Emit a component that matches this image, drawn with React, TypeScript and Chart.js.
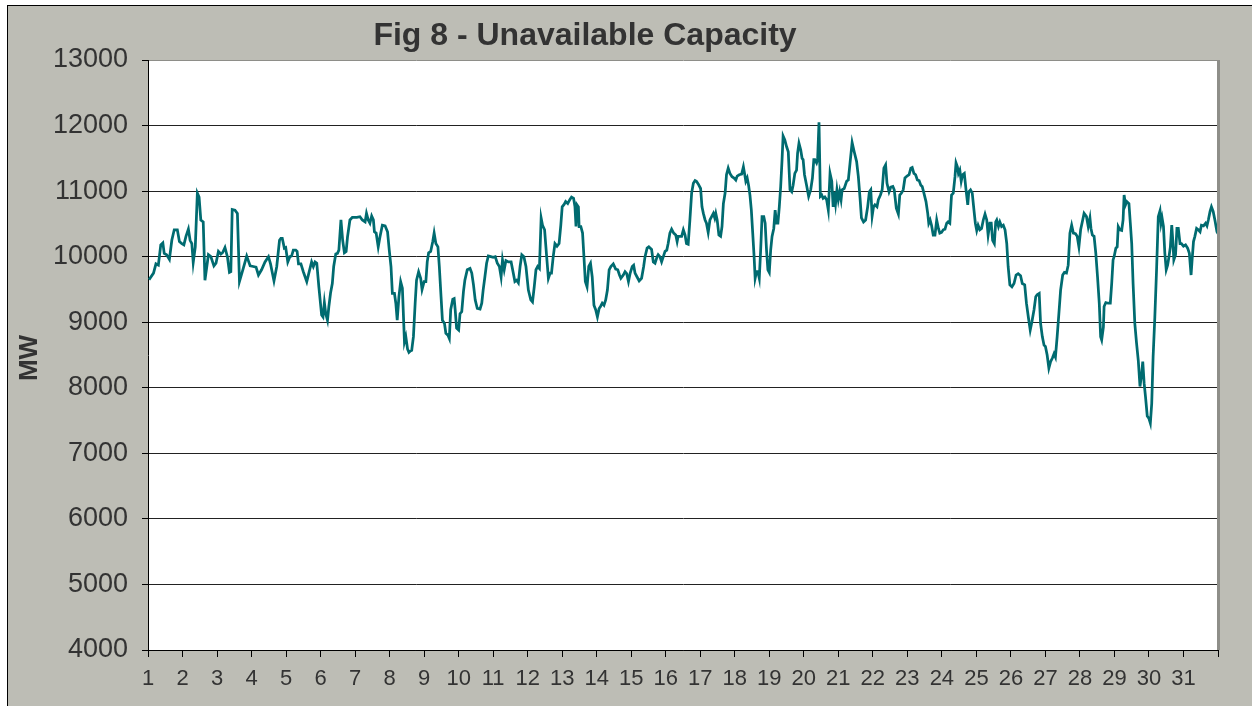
import React, { useEffect, useRef } from "react";
import { Chart, registerables } from "chart.js";

Chart.register(...registerables);

const TITLE = "Fig 8 - Unavailable Capacity";
const Y_TITLE = "MW";

const xTickLabels = [
  "1", "2", "3", "4", "5", "6", "7", "8", "9", "10", "11", "12", "13", "14", "15", "16",
  "17", "18", "19", "20", "21", "22", "23", "24", "25", "26", "27", "28", "29", "30", "31",
];

const yMin = 4000;
const yMax = 13000;
const yStep = 1000;

// day of month (fractional) of each reading
const days = [
  1.03, 1.16, 1.23, 1.30, 1.37, 1.43, 1.47, 1.54, 1.62, 1.69, 1.76, 1.85, 1.91, 1.98, 2.04, 2.10,
  2.17, 2.22, 2.27, 2.31, 2.37, 2.43, 2.48, 2.53, 2.60, 2.65, 2.75, 2.82, 2.91, 2.97, 3.04, 3.11,
  3.16, 3.23, 3.30, 3.36, 3.40, 3.44, 3.52, 3.59, 3.65, 3.76, 3.86, 3.96, 4.05, 4.13, 4.20, 4.29,
  4.39, 4.49, 4.55, 4.65, 4.73, 4.81,
  4.85, 4.89, 4.95, 4.99, 5.05, 5.11, 5.16, 5.21, 5.28, 5.32, 5.36, 5.43, 5.50, 5.60, 5.66, 5.74,
  5.79, 5.84, 5.89, 5.95, 6.03, 6.07, 6.11, 6.15, 6.20, 6.24, 6.29, 6.34, 6.38, 6.44, 6.49, 6.53,
  6.59, 6.64, 6.69, 6.74, 6.78, 6.85, 6.92, 7.05, 7.14, 7.21, 7.29, 7.33, 7.38, 7.43, 7.48, 7.53,
  7.56, 7.61, 7.67, 7.72, 7.79, 7.87, 7.94, 7.99, 8.04, 8.08, 8.14, 8.18, 8.22, 8.27, 8.32, 8.37,
  8.43, 8.47, 8.52, 8.56, 8.60,
  8.64, 8.69, 8.74, 8.78, 8.84, 8.90, 8.94, 9.00, 9.05, 9.09, 9.13, 9.19, 9.25, 9.29, 9.34, 9.40,
  9.44, 9.49, 9.53, 9.59, 9.63, 9.69, 9.73, 9.77, 9.83, 9.87, 9.90, 9.94, 10.00, 10.04, 10.09, 10.14,
  10.18, 10.25, 10.33, 10.38, 10.43, 10.48, 10.54, 10.62, 10.67, 10.71, 10.76, 10.81, 10.86, 10.93, 11.00, 11.06,
  11.12, 11.18, 11.23, 11.27, 11.32, 11.37, 11.44, 11.52, 11.58, 11.63, 11.68, 11.73, 11.78, 11.83, 11.89, 11.95,
  12.02, 12.09, 12.14, 12.19, 12.24, 12.29, 12.34, 12.39, 12.43, 12.49,
  12.55, 12.60, 12.65, 12.69, 12.74, 12.79, 12.85, 12.91, 12.96, 13.00, 13.06, 13.10, 13.16, 13.22, 13.27, 13.33,
  13.37, 13.40, 13.43, 13.47, 13.49, 13.54, 13.59, 13.63, 13.67, 13.72, 13.77, 13.82, 13.87, 13.92, 13.97, 14.02,
  14.07, 14.11, 14.16, 14.21, 14.26, 14.31, 14.36, 14.41, 14.48, 14.55, 14.61, 14.66, 14.70, 14.77, 14.82, 14.87,
  14.92, 14.97, 15.03, 15.07, 15.11, 15.17, 15.23, 15.30, 15.36, 15.40, 15.46, 15.51, 15.59, 15.64, 15.69, 15.75,
  15.78, 15.83, 15.88, 15.93, 15.98, 16.03, 16.07, 16.12, 16.17, 16.23, 16.29, 16.33, 16.36, 16.41,
  16.46, 16.51, 16.56, 16.60, 16.65, 16.70, 16.75, 16.80, 16.85, 16.89, 16.94, 17.01, 17.05, 17.09, 17.14, 17.18,
  17.23, 17.28, 17.33, 17.38, 17.42, 17.45, 17.49, 17.54, 17.59, 17.63, 17.67, 17.72, 17.76, 17.81, 17.86, 17.92,
  17.98, 18.03, 18.07, 18.13, 18.20, 18.25, 18.29, 18.32, 18.36, 18.40, 18.44, 18.48, 18.52, 18.56, 18.59, 18.63,
  18.67, 18.71, 18.75, 18.79, 18.84, 18.88, 18.92, 18.96, 19.00, 19.04, 19.08, 19.13, 19.17, 19.21, 19.25, 19.29,
  19.33, 19.37, 19.40, 19.45, 19.50, 19.55, 19.60, 19.65, 19.69, 19.74, 19.79, 19.82, 19.86, 19.91, 19.95, 19.98,
  20.02, 20.08, 20.14, 20.20, 20.25, 20.29,
  20.32, 20.37, 20.40, 20.44, 20.48, 20.52, 20.56, 20.61, 20.66, 20.71, 20.76, 20.81, 20.85, 20.88, 20.92, 20.96,
  21.00, 21.04, 21.08, 21.11, 21.17, 21.24, 21.29, 21.34, 21.40, 21.46, 21.53, 21.58, 21.63, 21.67, 21.73, 21.79,
  21.85, 21.90, 21.94, 21.98, 22.02, 22.06, 22.12, 22.16, 22.22, 22.27, 22.32, 22.37, 22.41, 22.47, 22.52, 22.58,
  22.62, 22.68, 22.74, 22.78, 22.83, 22.88, 22.93, 22.99, 23.05, 23.10, 23.14, 23.19, 23.24, 23.29, 23.34, 23.39,
  23.43, 23.48, 23.54, 23.59, 23.62, 23.66, 23.70, 23.75, 23.80, 23.85, 23.90, 23.94, 23.99, 24.04, 24.09, 24.14,
  24.18, 24.23,
  24.28, 24.33, 24.38, 24.41, 24.45, 24.48, 24.52, 24.56, 24.60, 24.65, 24.70, 24.75, 24.78, 24.83, 24.88, 24.93,
  24.97, 25.01, 25.05, 25.10, 25.15, 25.20, 25.25, 25.30, 25.34, 25.39, 25.43, 25.47, 25.52, 25.56, 25.59, 25.64,
  25.68, 25.73, 25.78, 25.83, 25.88, 25.92, 25.97, 26.03, 26.09, 26.15, 26.21, 26.28, 26.33, 26.40, 26.45, 26.51,
  26.56, 26.61, 26.67, 26.72, 26.76, 26.82, 26.86, 26.91, 26.96, 27.00, 27.05, 27.10, 27.15, 27.20, 27.25, 27.29,
  27.34, 27.39, 27.44, 27.50, 27.55, 27.61, 27.66, 27.71, 27.76, 27.81, 27.87, 27.92, 27.97, 28.02, 28.08, 28.12,
  28.14, 28.19, 28.24, 28.29, 28.32, 28.36, 28.41, 28.46, 28.51, 28.56, 28.60, 28.63, 28.68, 28.70, 28.75, 28.82,
  28.88, 28.92, 28.96, 28.99, 29.04, 29.08, 29.11, 29.16, 29.21, 29.25, 29.28, 29.32, 29.36, 29.42, 29.46, 29.50,
  29.54, 29.59, 29.64, 29.69, 29.74, 29.79, 29.82, 29.86, 29.90, 29.95, 30.00, 30.04, 30.08, 30.12, 30.17, 30.22,
  30.27, 30.32, 30.35, 30.38, 30.42, 30.46, 30.50, 30.54, 30.58, 30.62, 30.66, 30.69, 30.72, 30.77, 30.81, 30.85,
  30.90, 30.94, 31.00, 31.06, 31.12, 31.17, 31.22, 31.25, 31.29, 31.33, 31.38, 31.43, 31.48, 31.52, 31.58, 31.64,
  31.68, 31.72, 31.77, 31.81, 31.86, 31.91, 31.97, 32.00,
];

// unavailable capacity, MW
const mw = [
  9650, 9750, 9890, 9870, 10180, 10210, 10050, 10030, 9960, 10250, 10410, 10410, 10230, 10200, 10180, 10310,
  10420, 10250, 10200, 9910, 10150, 10970, 10910, 10560, 10530, 9640, 10030, 10000, 9860, 9900, 10080, 10040,
  10060, 10140, 10000, 9760, 9770, 10720, 10710, 10660, 9620, 9820, 10010, 9860, 9850, 9840, 9720, 9800,
  9920, 10000, 9890, 9630, 9850, 10250,
  10280, 10280, 10130, 10140, 9920, 10000, 10010, 10100, 10100, 10080, 9890, 9890, 9770, 9620, 9750, 9920,
  9850, 9920, 9900, 9540, 9110, 9080, 9300, 9130, 9030, 9240, 9450, 9590, 9850, 10040, 10050, 10100,
  10560, 10250, 10060, 10080, 10300, 10560, 10600, 10600, 10610, 10560, 10530, 10660, 10560, 10510, 10620, 10560,
  10380, 10360, 10150, 10300, 10480, 10470, 10380, 10100, 9850, 9440, 9440, 9290, 9030, 9390, 9620, 9520,
  8700, 8780, 8590, 8540, 8560,
  8570, 8780, 9290, 9640, 9770, 9670, 9500, 9620, 9620, 9920, 10060, 10080, 10230, 10360, 10200, 10150,
  9850, 9390, 9030, 8980, 8830, 8800, 8750, 9190, 9350, 9360, 9190, 8910, 8880, 9130, 9160, 9470,
  9640, 9800, 9820, 9750, 9570, 9340, 9210, 9200, 9290, 9490, 9690, 9900, 10010, 10000, 9990, 10000,
  9900, 9850, 9690, 9950, 9800, 9940, 9920, 9920, 9760, 9620, 9640, 9600, 9850, 10030, 10000, 9850,
  9490, 9340, 9310, 9540, 9800, 9850, 9820, 10590, 10480, 10410,
  10000, 9670, 9750, 9750, 10000, 10200, 10160, 10200, 10480, 10760, 10800, 10840, 10810, 10870, 10910, 10890,
  10760, 10460, 10790, 10760, 10460, 10460, 10360, 10000, 9620, 9540, 9850, 9900, 9690, 9260, 9190, 9080,
  9210, 9240, 9290, 9260, 9340, 9490, 9800, 9850, 9890, 9810, 9800, 9720, 9670, 9720, 9770, 9740,
  9620, 9750, 9850, 9870, 9750, 9690, 9630, 9670, 9850, 10000, 10130, 10150, 10110, 9920, 9900, 10000,
  10030, 10000, 9920, 10000, 10080, 10100, 10200, 10360, 10420, 10360, 10330, 10230, 10310, 10310,
  10310, 10410, 10330, 10200, 10190, 10560, 10970, 11120, 11160, 11150, 11110, 11040, 10760, 10660, 10560, 10510,
  10370, 10560, 10610, 10660, 10590, 10660, 10560, 10330, 10310, 10460, 10810, 10970, 11250, 11350, 11270, 11220,
  11200, 11170, 11230, 11250, 11260, 11370, 11250, 11150, 11200, 11090, 10940, 10710, 10360, 10000, 9670, 9770,
  9770, 9670, 10100, 10610, 10610, 10510, 10100, 9800, 9760, 10100, 10310, 10430, 10710, 10510, 10510, 10760,
  11070, 11480, 11840, 11780, 11680, 11600, 11020, 10990, 11090, 11270, 11320, 11580, 11730, 11630, 11500, 11480,
  11250, 11090, 10920, 11020, 11200, 11480,
  11480, 11430, 11480, 12050, 10920, 10940, 10890, 10910, 10870, 10710, 11270, 11150, 10760, 10990, 10810, 11020,
  10870, 10990, 10870, 11020, 11040, 11150, 11170, 11430, 11740, 11600, 11450, 11220, 10890, 10590, 10530, 10560,
  10760, 10990, 11020, 10620, 10760, 10790, 10760, 10870, 10940, 11020, 11350, 11400, 11120, 10990, 11060, 11070,
  11020, 10740, 10650, 10940, 10970, 11020, 11200, 11230, 11250, 11350, 11360, 11270, 11250, 11170, 11160, 11090,
  11070, 10970, 10840, 10660, 10510, 10560, 10480, 10330, 10330, 10560, 10430, 10360, 10370, 10410, 10420, 10510,
  10530, 10510,
  10940, 10970, 11220, 11430, 11370, 11270, 11320, 11150, 11250, 11270, 11020, 10790, 10990, 11020, 10970, 10710,
  10510, 10400, 10480, 10410, 10430, 10560, 10650, 10560, 10330, 10510, 10510, 10250, 10200, 10530, 10560, 10460,
  10530, 10460, 10480, 10410, 10200, 9850, 9570, 9540, 9590, 9720, 9740, 9710, 9590, 9570, 9290, 9060,
  8880, 9010, 9190, 9390, 9420, 9440, 8980, 8780, 8650, 8630, 8500, 8300, 8400, 8450, 8520, 8470,
  8780, 9130, 9490, 9720, 9760, 9750, 9870, 10360, 10480, 10360, 10350, 10310, 10150, 10410, 10560, 10660,
  10660, 10610, 10460, 10590, 10430, 10330, 10310, 10050, 9690, 9290, 8780, 8730, 8930, 9240, 9300, 9290,
  9290, 9590, 9950, 10000, 10130, 10150, 10460, 10410, 10400, 10560, 10940, 10790, 10840, 10810, 10510, 10200,
  9590, 8980, 8680, 8420, 8020, 8220, 8400, 8070, 7860, 7570, 7530, 7460, 7760, 8470, 9080, 9800,
  10610, 10700, 10510, 10590, 10460, 10050, 9800, 9870, 10000, 10150, 10480, 10250, 9950, 10030, 10430, 10430,
  10200, 10200, 10160, 10180, 10130, 10050, 9720, 9950, 10230, 10310, 10430, 10410, 10380, 10480, 10470, 10510,
  10470, 10560, 10690, 10760, 10690, 10560, 10380, 10350,
];

const FONT = "'Liberation Sans', Arial, sans-serif";
const TEXT_COLOR = "#333333";
const LINE_COLOR = "#006b70";
const PANEL_GRAY = "rgb(189,189,181)";

const W = 1252;
const H = 706;

const decorPlugin = {
  id: "decor",
  beforeDraw(chart: any) {
    const { ctx, chartArea } = chart;
    ctx.save();
    ctx.fillStyle = "#ffffff";
    ctx.fillRect(chartArea.left, chartArea.top, chartArea.right - chartArea.left, chartArea.bottom - chartArea.top);
    ctx.restore();
  },
  afterDraw(chart: any) {
    const { ctx, chartArea } = chart;
    ctx.save();
    // right frame edge of plot area
    ctx.fillStyle = "#8e8e89";
    ctx.fillRect(chartArea.right - 1, chartArea.top, 3, chartArea.bottom - chartArea.top);
    // title
    ctx.fillStyle = TEXT_COLOR;
    ctx.font = `bold 32px ${FONT}`;
    ctx.textAlign = "center";
    ctx.textBaseline = "alphabetic";
    ctx.fillText(TITLE, 585, 45);
    // y axis title
    ctx.translate(37, 358);
    ctx.rotate(-Math.PI / 2);
    ctx.font = `bold 26px ${FONT}`;
    ctx.fillText(Y_TITLE, 0, 0);
    ctx.restore();
  },
};

export default function App() {
  const canvasRef = useRef<HTMLCanvasElement | null>(null);

  useEffect(() => {
    const canvas = canvasRef.current;
    if (!canvas) return;
    const points = days.map((d, i) => ({ x: d, y: mw[i] }));
    const chart = new Chart(canvas, {
      type: "line",
      data: {
        datasets: [
          {
            label: "Unavailable Capacity",
            data: points,
            borderColor: LINE_COLOR,
            borderWidth: 2.75,
            pointRadius: 0,
            tension: 0,
            fill: false,
          },
        ],
      },
      options: {
        responsive: false,
        animation: false,
        devicePixelRatio: 1,
        layout: { padding: { top: 60, right: 34, bottom: 0, left: 0 }, autoPadding: false },
        plugins: {
          legend: { display: false },
          tooltip: { enabled: false },
          title: { display: false },
        },
        scales: {
          x: {
            type: "linear",
            min: 1,
            max: xTickLabels.length + 1,
            afterFit: (s: any) => {
              s.height = 56;
            },
            ticks: {
              stepSize: 1,
              autoSkip: false,
              maxRotation: 0,
              minRotation: 0,
              padding: 9,
              color: TEXT_COLOR,
              font: { family: FONT, size: 22 },
              callback: (v: any) => xTickLabels[Math.round(Number(v)) - 1] ?? "",
            },
            grid: {
              drawOnChartArea: false,
              drawTicks: true,
              tickLength: 7,
              tickColor: "#000000",
              lineWidth: 1,
            },
            border: { display: true, color: "#000000", width: 1 },
          },
          y: {
            min: yMin,
            max: yMax,
            afterFit: (s: any) => {
              s.width = 148;
            },
            ticks: {
              stepSize: yStep,
              padding: 14,
              color: TEXT_COLOR,
              font: { family: FONT, size: 27 },
              callback: (v: any) => String(v),
            },
            grid: {
              color: (c: any) => (c.tick && c.tick.value === yMax ? "#8e8e89" : "#222222"),
              lineWidth: 1,
              drawTicks: true,
              tickLength: 6,
              tickColor: "#000000",
            },
            border: { display: true, color: "#000000", width: 1 },
          },
        },
      },
      plugins: [decorPlugin],
    } as any);
    return () => chart.destroy();
  }, []);

  return (
    <div style={{ position: "fixed", left: 0, top: 0, width: W, height: H, overflow: "hidden", background: "#ffffff" }}>
      <div
        style={{
          position: "absolute",
          left: 7,
          top: 5,
          width: 1300,
          height: 800,
          boxSizing: "border-box",
          border: "1px solid #000000",
          background: PANEL_GRAY,
        }}
      />
      <canvas
        ref={canvasRef}
        width={W}
        height={H}
        style={{ position: "absolute", left: 0, top: 0, width: W, height: H }}
      />
    </div>
  );
}
